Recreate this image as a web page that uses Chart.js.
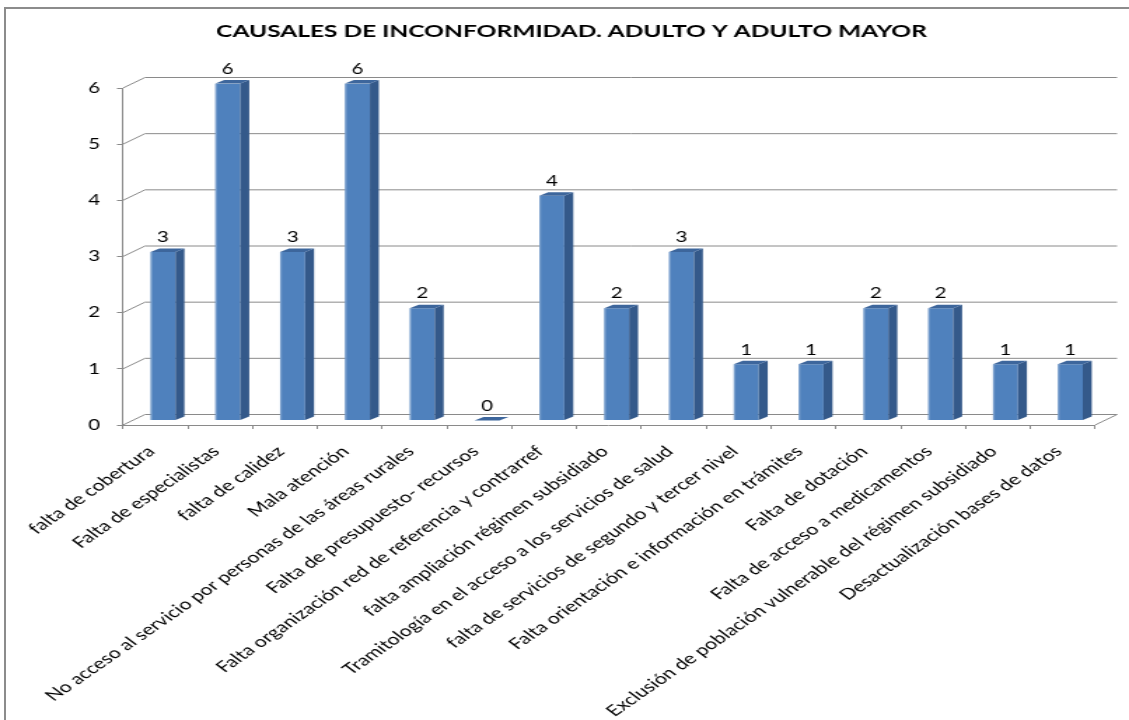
<!DOCTYPE html>
<html>
<head>
<meta charset="utf-8">
<script src="https://cdn.jsdelivr.net/npm/chart.js@4.4.1/dist/chart.umd.min.js"></script>
<style>
    html, body { margin: 0; padding: 0; background: #fff; overflow: hidden; }
    #frame { position: absolute; left: 4px; top: 7px; width: 1125px; height: 713px;
             border-left: 2px solid #8c8c8c; border-top: 2px solid #8c8c8c; }
    /* the source picture is an Excel chart stretched sideways, so stretch ours too */
    #wrap { position: absolute; left: 0; top: 0; width: 806px; height: 720px;
            transform: scaleX(1.40074); transform-origin: 0 0; }
</style>
</head>
<body>
<div id="frame"></div>
<div id="wrap"><canvas id="chart"></canvas></div>
<script>
const categories = [
    'falta de cobertura',
    'Falta de especialistas',
    'falta de calidez',
    'Mala atención',
    'No acceso al servicio por personas de las áreas rurales',
    'Falta de presupuesto- recursos',
    'Falta organización red de referencia y contrarref',
    'falta ampliación régimen subsidiado',
    'Tramitología en el acceso a los servicios de salud',
    'falta de servicios de segundo y tercer nivel',
    'Falta orientación e información en trámites',
    'Falta de dotación',
    'Falta de acceso a medicamentos',
    'Exclusión de población vulnerable del régimen subsidiado',
    'Desactualización bases de datos'
]
const values = [3, 6, 3, 6, 2, 0, 4, 2, 3, 1, 1, 2, 2, 1, 1]
const y_ticks = [0, 1, 2, 3, 4, 5, 6]
const title_text = 'CAUSALES DE INCONFORMIDAD. ADULTO Y ADULTO MAYOR'

const FONT = 'Lato'
const FONT_SIZE = 14.6
const LABEL_SIZE = 15.2
const GRID = '#8a8a8a'
const FACE = '#4f81bd'
const SIDE = '#34598a'
const TOP = '#3d669c'

// 3d look: back wall offset, bar plane offset, bar depth
const DEPTH_X = 15.7, DEPTH_Y = -10.5
const BAR_X = 5.4, BAR_Y = -4.5
const SIDE_X = 6.4, SIDE_Y = -3.5
// where the end of each slanted category label sits, from its tick
const LABEL_DX = -3, LABEL_DY = 24
const LABEL_ANGLE = 44

const bars_3d = {
    'id': 'bars_3d',
    beforeDatasetsDraw(chart) {
        let ctx = chart.ctx
        let area = chart.chartArea
        let y = chart.scales.y
        ctx.save()
        ctx.strokeStyle = GRID
        ctx.lineWidth = 1
        y_ticks.forEach(v => {
            let py = y.getPixelForValue(v)
            ctx.beginPath()
            ctx.moveTo(area.left, py)
            ctx.lineTo(area.left + DEPTH_X, py + DEPTH_Y)
            ctx.lineTo(area.right + DEPTH_X, py + DEPTH_Y)
            ctx.stroke()
        })
        ctx.beginPath()
        ctx.moveTo(area.right, area.bottom)
        ctx.lineTo(area.right + DEPTH_X, area.bottom + DEPTH_Y)
        ctx.stroke()
        ctx.restore()
        ctx.save()
        ctx.translate(BAR_X, BAR_Y)
    },
    afterDatasetsDraw(chart) {
        let ctx = chart.ctx
        chart.getDatasetMeta(0).data.forEach((bar, i) => {
            let p = bar.getProps(['x', 'y', 'base', 'width'], true)
            let l = p.x - p.width / 2
            let r = p.x + p.width / 2
            // light rim on the front face
            ctx.fillStyle = 'rgba(255,255,255,0.22)'
            ctx.fillRect(l, p.y, 1.3, p.base - p.y)
            ctx.fillStyle = SIDE
            ctx.beginPath()
            ctx.moveTo(r, p.y)
            ctx.lineTo(r + SIDE_X, p.y + SIDE_Y)
            ctx.lineTo(r + SIDE_X, p.base + SIDE_Y)
            ctx.lineTo(r, p.base)
            ctx.closePath()
            ctx.fill()
            ctx.fillStyle = TOP
            ctx.beginPath()
            ctx.moveTo(l, p.y)
            ctx.lineTo(r, p.y)
            ctx.lineTo(r + SIDE_X, p.y + SIDE_Y)
            ctx.lineTo(l + SIDE_X, p.y + SIDE_Y)
            ctx.closePath()
            ctx.fill()
            ctx.fillStyle = '#000'
            ctx.font = FONT_SIZE + 'px ' + FONT
            ctx.textAlign = 'center'
            ctx.textBaseline = 'middle'
            ctx.fillText(String(values[i]), p.x, p.y - 14.5)
        })
        ctx.restore()
    },
    afterDraw(chart) {
        // slanted category labels
        let ctx = chart.ctx
        let x = chart.scales.x
        ctx.save()
        ctx.fillStyle = '#000'
        ctx.font = LABEL_SIZE + 'px ' + FONT
        ctx.textAlign = 'right'
        ctx.textBaseline = 'middle'
        categories.forEach((label, i) => {
            ctx.save()
            ctx.translate(x.getPixelForValue(i) + LABEL_DX, chart.chartArea.bottom + LABEL_DY)
            ctx.rotate(-LABEL_ANGLE * Math.PI / 180)
            ctx.fillText(label, 0, 0)
            ctx.restore()
        })
        ctx.restore()
    }
}

new Chart(document.getElementById('chart').getContext('2d'), {
    'type': 'bar',
    'data': {
        'labels': categories,
        'datasets': [{
            'data': values,
            'backgroundColor': FACE,
            'borderWidth': 0,
            'barPercentage': 0.386,
            'categoryPercentage': 1.0
        }]
    },
    'options': {
        'responsive': true,
        'maintainAspectRatio': false,
        'animation': false,
        'layout': {
            'padding': {'left': 10, 'right': 0, 'top': 0, 'bottom': 0}
        },
        'plugins': {
            'legend': {'display': false},
            'tooltip': {'enabled': false},
            'title': {
                'display': true,
                'text': title_text,
                'color': '#000',
                'font': {'family': FONT, 'size': 17.5, 'weight': 'bold'},
                'padding': {'top': 20.5, 'bottom': 46.5}
            }
        },
        'scales': {
            'x': {
                'afterFit': scale => { scale.height = 295 },
                'grid': {
                    'drawOnChartArea': false,
                    'drawTicks': true,
                    'tickLength': 4,
                    'color': GRID
                },
                'border': {'display': true, 'color': GRID},
                'ticks': {'display': false}
            },
            'y': {
                'min': 0,
                'max': 6,
                'afterFit': scale => { scale.width = 77.8 },
                'grid': {
                    'drawOnChartArea': false,
                    'drawTicks': true,
                    'tickLength': 4.3,
                    'color': GRID
                },
                'border': {'display': true, 'color': GRID},
                'ticks': {
                    'stepSize': 1,
                    'padding': 12,
                    'color': '#000',
                    'font': {'family': FONT, 'size': FONT_SIZE}
                }
            },
            // empty right-hand strip that leaves room for the back wall
            'y2': {
                'type': 'linear',
                'position': 'right',
                'afterFit': scale => { scale.width = 24.2 },
                'grid': {'display': false},
                'border': {'display': false},
                'ticks': {'display': false}
            }
        }
    },
    'plugins': [bars_3d]
})
</script>
</body>
</html>
